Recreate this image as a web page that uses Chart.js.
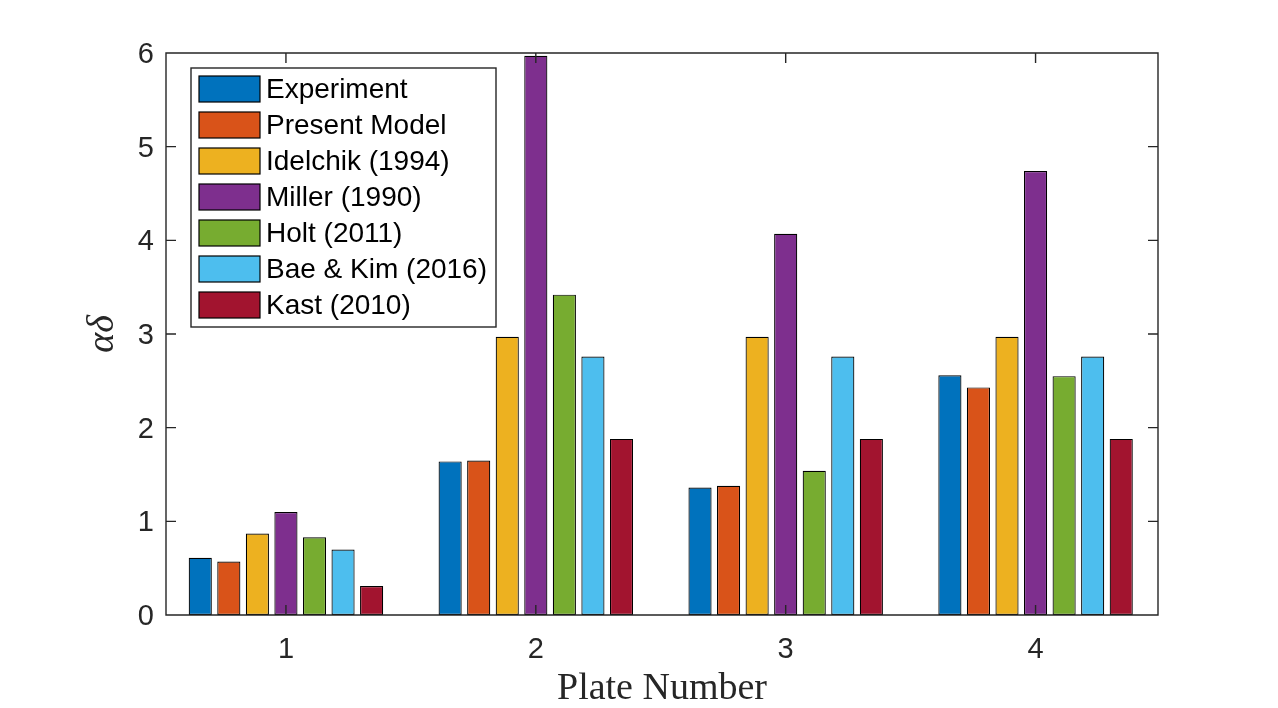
<!DOCTYPE html>
<html>
<head>
<meta charset="utf-8">
<title>Plate Number</title>
<script src="https://cdn.jsdelivr.net/npm/chart.js@4.4.0/dist/chart.umd.min.js"></script>
<style>
  html, body { margin: 0; padding: 0; background: #fff; }
  #chart { display: block; }
</style>
</head>
<body>
<canvas id="chart" width="1278" height="708"></canvas>
<script>
// --------------------------- Data

const plates = [1, 2, 3, 4];
const yTicks = [0, 1, 2, 3, 4, 5, 6];

const experiment   = [0.61, 1.64, 1.36, 2.56];
const presentModel = [0.57, 1.65, 1.38, 2.43];
const idelchik     = [0.87, 2.97, 2.97, 2.97];
const miller       = [1.10, 5.97, 4.07, 4.74];
const holt         = [0.83, 3.42, 1.54, 2.55];
const baeKim       = [0.70, 2.76, 2.76, 2.76];
const kast         = [0.31, 1.88, 1.88, 1.88];

const seriesNames  = ['Experiment', 'Present Model', 'Idelchik (1994)', 'Miller (1990)',
                      'Holt (2011)', 'Bae & Kim (2016)', 'Kast (2010)'];
const seriesValues = [experiment, presentModel, idelchik, miller, holt, baeKim, kast];

// MATLAB default colour order
const COLORS = ['#0072BD', '#D95319', '#EDB120', '#7E2F8E', '#77AC30', '#4DBEEE', '#A2142F'];
const AXIS_COLOR = '#262626';
const SANS = '"Liberation Sans", Arial, Helvetica, sans-serif';
const SERIF = '"Liberation Serif", "DejaVu Serif", serif';

// --------------------------- Plugins

// MATLAB style box with inward ticks on all four sides
const boxTicks = {
    id: 'boxTicks',
    afterDatasetsDraw(chart) {
        const {ctx, chartArea: a, scales: {x, y}} = chart;
        const len = 10;
        ctx.save();
        ctx.strokeStyle = AXIS_COLOR;
        ctx.lineWidth = 1.4;
        ctx.beginPath();
        yTicks.forEach(v => {
            const py = y.getPixelForValue(v);
            ctx.moveTo(a.left, py);  ctx.lineTo(a.left + len, py);
            ctx.moveTo(a.right, py); ctx.lineTo(a.right - len, py);
        });
        plates.forEach(v => {
            const px = x.getPixelForValue(v);
            ctx.moveTo(px, a.bottom); ctx.lineTo(px, a.bottom - len);
            ctx.moveTo(px, a.top);    ctx.lineTo(px, a.top + len);
        });
        ctx.rect(a.left, a.top, a.right - a.left, a.bottom - a.top);
        ctx.stroke();
        ctx.restore();
    }
};

// legend box inside the upper left corner of the axes
const boxLegend = {
    id: 'boxLegend',
    afterDraw(chart) {
        const {ctx, chartArea: a} = chart;
        const x0 = a.left + 25, y0 = a.top + 15;
        const w = 305, h = 259, rowH = 36, pad = 8;
        ctx.save();
        ctx.fillStyle = '#fff';
        ctx.fillRect(x0, y0, w, h);
        ctx.strokeStyle = AXIS_COLOR;
        ctx.lineWidth = 1.4;
        ctx.strokeRect(x0, y0, w, h);
        ctx.font = '28px ' + SANS;
        ctx.textBaseline = 'middle';
        chart.data.datasets.forEach((ds, i) => {
            const sy = y0 + pad + i * rowH;
            ctx.fillStyle = ds.backgroundColor;
            ctx.fillRect(x0 + 8, sy, 61, 26);
            ctx.strokeStyle = '#000';
            ctx.lineWidth = 1.2;
            ctx.strokeRect(x0 + 8, sy, 61, 26);
            ctx.fillStyle = '#000';
            ctx.fillText(ds.label, x0 + 75, sy + 14);
        });
        ctx.restore();
    }
};

// --------------------------- Chart

const datasets = seriesNames.map((name, i) => ({
    label: name,
    data: plates.map((p, j) => ({x: p, y: seriesValues[i][j]})),
    backgroundColor: COLORS[i],
    borderColor: '#000',
    borderWidth: 1.2,
    borderSkipped: false,
    categoryPercentage: 0.80,
    barPercentage: 0.81,
}));

const options = {
    responsive: false,
    animation: false,
    layout: {
        padding: {left: 84, right: 120, top: 53, bottom: 0}
    },
    plugins: {
        legend: {display: false},
        tooltip: {enabled: false},
    },
    scales: {
        x: {
            type: 'linear',
            min: 0.52,
            max: 4.49,
            offset: false,
            afterBuildTicks: scale => { scale.ticks = plates.map(v => ({value: v})); },
            afterFit: scale => { scale.height = 93; },
            grid: {display: false, drawTicks: false},
            border: {display: false},
            ticks: {
                color: AXIS_COLOR,
                padding: 18,
                maxRotation: 0,
                font: {family: SANS, size: 29},
            },
            title: {
                display: true,
                text: 'Plate Number',
                color: AXIS_COLOR,
                padding: {top: 0, bottom: 0},
                font: {family: SERIF, size: 38, lineHeight: 1.0},
            }
        },
        y: {
            min: 0,
            max: 6,
            afterBuildTicks: scale => { scale.ticks = yTicks.map(v => ({value: v})); },
            afterFit: scale => { scale.width = 82; },
            grid: {display: false, drawTicks: false},
            border: {display: false},
            ticks: {
                color: AXIS_COLOR,
                padding: 12,
                labelOffset: 2,
                font: {family: SANS, size: 29},
            },
            title: {
                display: true,
                text: 'αδ',
                color: AXIS_COLOR,
                padding: {top: 0, bottom: 0},
                font: {family: SERIF, size: 38, style: 'italic', lineHeight: 1.0},
            }
        }
    }
};

new Chart(document.getElementById('chart'), {
    type: 'bar',
    data: {datasets: datasets},
    options: options,
    plugins: [boxTicks, boxLegend],
});
</script>
</body>
</html>
